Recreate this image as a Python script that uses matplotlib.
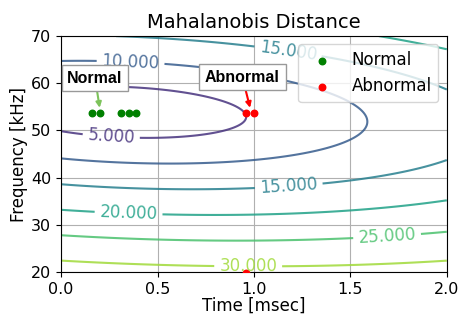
import numpy as np
import matplotlib
matplotlib.use("Agg")
import matplotlib.pyplot as plt
from matplotlib.colors import Normalize

# ---- data ----
normal_x = [0.16, 0.20, 0.31, 0.35, 0.39]
normal_y = [53.7, 53.7, 53.7, 53.7, 53.7]
abnormal_x = [0.96, 1.00, 0.96]
abnormal_y = [53.6, 53.6, 19.7]

# distribution of the normal data used for the distance field
dist_mean = [0.331, 53.87]
dist_cov = [[0.0158, -0.0253],
            [-0.0253, 1.187]]

contour_levels = [5, 10, 15, 20, 25, 30]
x_ticks = [0.0, 0.5, 1.0, 1.5, 2.0]
y_ticks = [20, 30, 40, 50, 60, 70]

# ---- figure ----
fig = plt.figure(figsize=(4.63, 3.14), dpi=100)
ax = fig.add_axes([0.132, 0.134, 0.833, 0.751])

gx = np.linspace(0, 2, 400)
gy = np.linspace(20, 70, 400)
X, Y = np.meshgrid(gx, gy)
P = np.linalg.inv(np.array(dist_cov))
U = X - dist_mean[0]
V = Y - dist_mean[1]
D = np.sqrt(P[0, 0] * U**2 + 2 * P[0, 1] * U * V + P[1, 1] * V**2)

cs = ax.contour(X, Y, D, levels=contour_levels, cmap="viridis",
                norm=Normalize(0, 35), linewidths=1.5, alpha=0.85)
label_pos = [(0.36, 64.2), (0.26, 48.8), (1.18, 67.7), (1.18, 38.4),
             (0.35, 32.7), (1.69, 27.8), (0.97, 21.3)]
ax.clabel(cs, fmt="%.3f", fontsize=12, manual=label_pos, inline=True)

ax.scatter(normal_x, normal_y, s=22, color="green", label="Normal", zorder=3)
ax.scatter(abnormal_x, abnormal_y, s=22, color="red", label="Abnormal", zorder=3)

bbox = dict(boxstyle="square,pad=0.36", fc="white", ec="#999999", lw=1)
ax.annotate("Normal", xy=(0.20, 54.8), xytext=(0.176, 61.1),
            ha="center", va="center", fontsize=11.5, fontweight="bold",
            family="Liberation Sans", bbox=bbox, zorder=5,
            arrowprops=dict(arrowstyle="-|>", color="#7dc35b", lw=1.5,
                            mutation_scale=8, shrinkA=0, shrinkB=0))
ax.annotate("Abnormal", xy=(0.98, 54.8), xytext=(0.94, 61.3),
            ha="center", va="center", fontsize=11.5, fontweight="bold",
            family="Liberation Sans", bbox=bbox, zorder=5,
            arrowprops=dict(arrowstyle="-|>", color="red", lw=1.5,
                            mutation_scale=8, shrinkA=0, shrinkB=0))

ax.set_xlim(0, 2)
ax.set_ylim(20, 70)
ax.set_xticks(x_ticks)
ax.set_yticks(y_ticks)
ax.tick_params(labelsize=11.5)
ax.grid(True, color="#b0b0b0", lw=0.8)
ax.set_title("Mahalanobis Distance", fontsize=14)
ax.set_xlabel("Time [msec]", fontsize=12, labelpad=0)
ax.set_ylabel("Frequency [kHz]", fontsize=12, labelpad=2)
ax.legend(loc="upper right", fontsize=12, handletextpad=0.8)

fig.savefig("out.png", dpi=100)
